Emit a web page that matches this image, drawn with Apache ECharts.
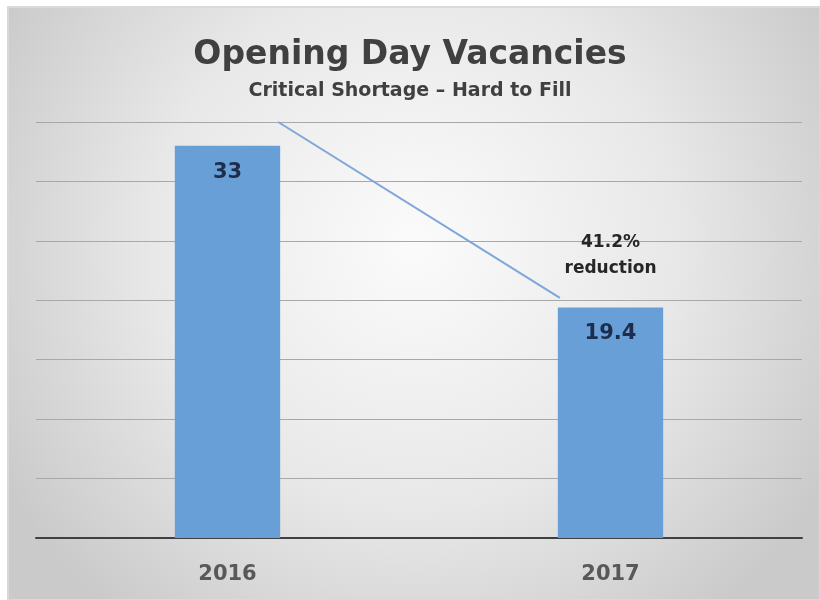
<!DOCTYPE html>
<html>
<head>
<meta charset="utf-8">
<script src="https://cdn.jsdelivr.net/npm/echarts@6/dist/echarts.min.js"></script>
<style>
  html, body { margin: 0; padding: 0; background: #fff; }
  #chart { width: 820px; height: 600px; }
</style>
</head>
<body>
<div id="chart"></div>
<script>
const years = ["2016", "2017"];
const vacancies = [33, 19.4];
const yMin = 0;
const yMax = 35;
const yStep = 5;
// annotation line runs from the top gridline down to just above the 2017 bar
const trendFrom = 35;
const trendTo = 20.2;

const reduction = ((vacancies[0] - vacancies[1]) / vacancies[0] * 100).toFixed(1);
const font = "'DejaVu Sans', sans-serif";

const chart = echarts.init(document.getElementById("chart"));

const options = {
  animation: false,
  backgroundColor: "#ffffff",
  title: {
    text: "Opening Day Vacancies",
    subtext: "Critical Shortage – Hard to Fill",
    left: "center",
    top: 34,
    itemGap: 10,
    textStyle: { color: "#404040", fontSize: 33, fontWeight: "bold", fontFamily: font },
    subtextStyle: { color: "#404040", fontSize: 19, fontWeight: "bold", fontFamily: font },
  },
  grid: { left: 36, right: 18, top: 122, bottom: 62 },
  xAxis: {
    type: "category",
    data: years,
    axisTick: { show: false },
    axisLine: { lineStyle: { color: "#404040", width: 2 } },
    axisLabel: { color: "#595959", fontSize: 21, fontWeight: "bold", fontFamily: font, margin: 26 },
  },
  yAxis: {
    type: "value",
    min: yMin,
    max: yMax,
    interval: yStep,
    axisLabel: { show: false },
    axisLine: { show: false },
    axisTick: { show: false },
    splitLine: { lineStyle: { color: "#a8a8a8", width: 1 } },
  },
  series: [
    {
      type: "bar",
      data: vacancies,
      barWidth: "27.5%",
      itemStyle: { color: "#689fd7" },
      label: {
        show: true,
        position: "insideTop",
        distance: 16,
        color: "#1f2d4d",
        fontSize: 21,
        fontWeight: "bold",
        fontFamily: font,
      },
      markPoint: {
        symbol: "circle",
        symbolSize: 1,
        itemStyle: { color: "rgba(0,0,0,0)" },
        label: {
          show: true,
          position: "top",
          distance: 25,
          color: "#262626",
          fontSize: 17,
          fontWeight: "bold",
          fontFamily: font,
          lineHeight: 26,
          formatter: reduction + "%\nreduction",
        },
        data: [{ coord: [years[1], vacancies[1]] }],
      },
    },
  ],
};

chart.setOption(options);

// frame, soft radial background and the diagonal annotation line
const c0 = chart.convertToPixel({ xAxisIndex: 0 }, years[0]);
const c1 = chart.convertToPixel({ xAxisIndex: 0 }, years[1]);
const half = (c1 - c0) * 0.275 / 2;
const yA = chart.convertToPixel({ yAxisIndex: 0 }, trendFrom);
const yB = chart.convertToPixel({ yAxisIndex: 0 }, trendTo);

chart.setOption({
  graphic: [
    {
      type: "rect",
      z: -10,
      silent: true,
      shape: { x: 8, y: 7, width: 812, height: 593 },
      style: {
        fill: new echarts.graphic.RadialGradient(0.5, 0.4, 0.8, [
          { offset: 0, color: "#fbfbfb" },
          { offset: 0.55, color: "#e8e8e8" },
          { offset: 1, color: "#cacaca" },
        ]),
        stroke: "#d9d9d9",
        lineWidth: 2,
      },
    },
    {
      type: "line",
      z: 5,
      silent: true,
      shape: { x1: c0 + half - 2, y1: yA, x2: c1 - half + 2, y2: yB },
      style: { stroke: "#7ea6d8", lineWidth: 2 },
    },
  ],
});
</script>
</body>
</html>
